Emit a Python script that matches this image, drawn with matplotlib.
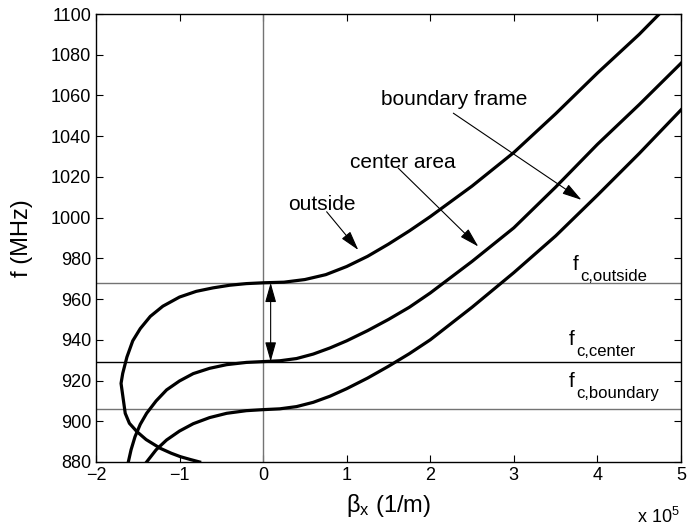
import matplotlib
matplotlib.use("Agg")
import matplotlib.pyplot as plt

plt.rcParams["font.family"] = ["Liberation Sans", "DejaVu Sans"]
plt.rcParams["mathtext.fontset"] = "custom"
plt.rcParams["mathtext.rm"] = "Liberation Sans"
plt.rcParams["mathtext.it"] = "Liberation Sans:italic"

# beta_x in units of 1e5 1/m, f in MHz
beta_outside = [-0.76, -0.87, -0.99, -1.10, -1.23, -1.40, -1.51, -1.60, -1.65, -1.70,
                -1.68, -1.63, -1.56, -1.47, -1.35, -1.20, -1.00, -0.80, -0.60, -0.40,
                -0.20, 0.00, 0.25, 0.50, 0.75, 1.00, 1.25, 1.50, 1.75, 2.00,
                2.50, 3.00, 3.50, 4.00, 4.50, 4.75]
f_outside = [880.0, 881.2, 882.6, 884.3, 886.7, 891.0, 894.9, 899.0, 903.9, 918.6,
             923.5, 931.5, 939.5, 945.5, 951.5, 956.5, 961.0, 963.8, 965.5, 966.8,
             967.6, 968.0, 968.3, 969.6, 972.0, 976.0, 981.0, 987.0, 993.5, 1000.5,
             1015.5, 1032.0, 1051.0, 1071.0, 1090.0, 1100.4]

beta_center = [-1.613, -1.58, -1.533, -1.47, -1.394, -1.28, -1.155, -1.00, -0.836, -0.64,
               -0.436, -0.20, 0.00, 0.20, 0.40, 0.60, 0.80, 1.00, 1.25, 1.50,
               1.75, 2.00, 2.50, 3.00, 3.50, 4.00, 4.50, 5.00]
f_center = [880.0, 886.0, 892.4, 898.5, 903.9, 910.0, 915.4, 919.8, 923.4, 926.0,
            927.8, 928.9, 929.3, 929.7, 930.8, 933.0, 936.0, 939.5, 944.5, 950.0,
            956.0, 963.0, 978.5, 995.0, 1015.0, 1036.0, 1055.5, 1075.8]

beta_boundary = [-1.394, -1.28, -1.155, -1.00, -0.836, -0.64, -0.436, -0.20, 0.00, 0.20,
                 0.40, 0.60, 0.80, 1.00, 1.25, 1.50, 1.75, 2.00, 2.50, 3.00,
                 3.50, 4.00, 4.50, 5.00]
f_boundary = [880.0, 886.0, 890.8, 895.2, 898.8, 901.8, 903.9, 905.2, 905.7, 906.1,
              907.2, 909.3, 912.3, 916.0, 921.2, 927.0, 933.2, 940.0, 956.0, 973.0,
              991.0, 1011.0, 1031.5, 1052.9]

fc_values = [968, 929, 906]
fc_names = ["c,outside", "c,center", "c,boundary"]
fc_colors = ["0.45", "black", "0.45"]

x_ticks = [-2, -1, 0, 1, 2, 3, 4, 5]
y_ticks = list(range(880, 1101, 20))

fig = plt.figure(figsize=(6.88, 5.29), dpi=100)
ax = fig.add_axes([0.1395, 0.1267, 0.8503, 0.8468])

ax.axvline(0, color="0.45", lw=1.0)
for fc, col in zip(fc_values, fc_colors):
    ax.axhline(fc, color=col, lw=1.0)

for b, f in [(beta_outside, f_outside), (beta_center, f_center), (beta_boundary, f_boundary)]:
    ax.plot(b, f, color="black", lw=2.3, solid_joinstyle="round")

ax.set_xlim(-2, 5)
ax.set_ylim(880, 1100)
ax.set_xticks(x_ticks)
ax.set_xticklabels(["\u2212%d" % -t if t < 0 else str(t) for t in x_ticks])
ax.set_yticks(y_ticks)
ax.tick_params(direction="in", top=True, right=True, length=5, width=0.8, labelsize=13)
for s in ax.spines.values():
    s.set_linewidth(1.0)

ax.set_xlabel("\u03b2$_{\\mathrm{x}}$ (1/m)", fontsize=17, labelpad=6)
ax.set_ylabel("f (MHz)", fontsize=17, labelpad=13)
fig.text(0.988, 0.012, r"x 10$^{5}$", fontsize=13, ha="right")

# curve annotations: text and arrows drawn separately
ax.text(0.704, 1006.5, "outside", fontsize=15, ha="center", va="center")
ax.text(1.674, 1027.3, "center area", fontsize=15, ha="center", va="center")
ax.text(2.284, 1057.8, "boundary frame", fontsize=15, ha="center", va="center")

arw = dict(arrowstyle="-|>,head_length=0.6,head_width=0.17", color="black", lw=0.8,
           mutation_scale=20, shrinkA=0, shrinkB=0)
ax.annotate("", xy=(1.139, 984.1), xytext=(0.76, 1002.9), arrowprops=arw)
ax.annotate("", xy=(2.575, 985.8), xytext=(1.617, 1024.3), arrowprops=arw)
ax.annotate("", xy=(3.81, 1008.7), xytext=(2.276, 1051.3), arrowprops=arw)
ax.annotate("", xy=(0.09, 968), xytext=(0.09, 929.3),
            arrowprops=dict(arw, arrowstyle="<|-|>,head_length=0.6,head_width=0.17"))

# cutoff labels
fc_pos = [(3.708, 974.3), (3.652, 937.5), (3.652, 916.8)]
for (bx, fy), name in zip(fc_pos, fc_names):
    ax.text(bx, fy, "f", fontsize=15, ha="left", va="baseline")
    ax.text(bx + 0.09, fy - 5.5, name, fontsize=12, ha="left", va="baseline")

fig.savefig("out.png", dpi=100)
